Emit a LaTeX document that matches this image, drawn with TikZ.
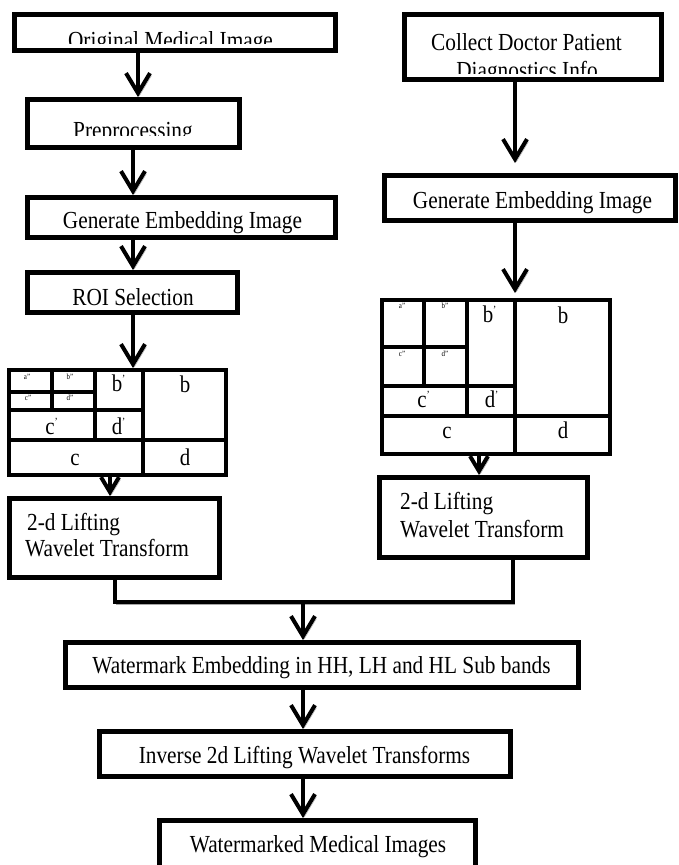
\documentclass[tikz,border=0pt]{standalone}
\usepackage{fontspec}
\setmainfont{Liberation Serif}[FakeStretch=0.87]
\usetikzlibrary{arrows.meta}
\newcommand\primed[1]{#1\rlap{\raisebox{9pt}{\fontsize{11}{11}\selectfont '}}}
\begin{document}
\begin{tikzpicture}[x=1pt,y=-1pt,
  box/.style={draw, line width=5pt, rectangle, inner sep=0pt},
  gbox/.style={draw, line width=4pt, rectangle, inner sep=0pt},
  gline/.style={line width=4pt},
  lbl/.style={font=\fontsize{24.5}{29}\selectfont, inner sep=0pt, anchor=base},
  lblw/.style={font=\fontsize{24.5}{29}\selectfont, inner sep=0pt, anchor=base west},
  glbl/.style={font=\fontsize{24}{28}\selectfont, inner sep=0pt, anchor=base},
  tinylbl/.style={font=\fontsize{8}{8}\selectfont, inner sep=0pt},
  shadow/.style={preaction={draw=black!35, transform canvas={xshift=1.5pt,yshift=-2.5pt}}},
  arr/.style={line width=4pt, -{Straight Barb[length=20pt,width=24pt]}, shadow},
  sarr/.style={line width=4pt, -{Straight Barb[length=15pt,width=18pt]}, shadow},
  conn/.style={line width=4pt, line join=miter, line cap=rect, shadow}]

\useasboundingbox (0,0) rectangle (679,865);
\clip (0,0) rectangle (679,865);

% ---- text (some clipped like the original) ----
\begin{scope}
  \clip (14,14) rectangle (336,43);
  \node[lbl] (torig) at (170.5,48) {Original Medical Image};
\end{scope}
\begin{scope}
  \clip (27,99) rectangle (240,135);
  \node[lbl] (tpre) at (133,138) {Preprocessing};
\end{scope}
\node[lbl] (tgenL) at (182.5,228.5) {Generate Embedding Image};
\node[lbl] (troi) at (133,305) {ROI Selection};
\node[lbl] (tcol1) at (526.5,50) {Collect Doctor Patient};
\begin{scope}
  \clip (404,14) rectangle (662,73);
  \node[lbl] (tcol2) at (527,78) {Diagnostics Info};
\end{scope}
\node[lbl] (tgenR) at (532.5,208.5) {Generate Embedding Image};
\node[lblw] (tliftL1) at (27,530) {2-d Lifting};
\node[lblw] (tliftL2) at (25,556) {Wavelet Transform};
\node[lblw] (tliftR1) at (400,509) {2-d Lifting};
\node[lblw] (tliftR2) at (400,537) {Wavelet Transform};
\node[lbl] (twm) at (321.5,673) {Watermark Embedding in HH, LH and HL Sub bands};
\node[lbl] (tinv) at (304.5,763) {Inverse 2d Lifting Wavelet Transforms};
\node[lbl] (tfin) at (318,852) {Watermarked Medical Images};

% ---- boxes ----
\node[box, minimum width=321pt, minimum height=36pt] (orig) at (175,32.5) {};
\node[box, minimum width=212pt, minimum height=48pt] (pre) at (133.5,123.5) {};
\node[box, minimum width=308pt, minimum height=40pt] (genL) at (181.5,217.5) {};
\node[box, minimum width=210pt, minimum height=40pt] (roi) at (132.5,292.5) {};
\node[box, minimum width=257pt, minimum height=65pt] (col) at (533,47) {};
\node[box, minimum width=291pt, minimum height=45pt] (genR) at (530,198) {};
\node[box, minimum width=210pt, minimum height=79pt] (liftL) at (114.5,538) {};
\node[box, minimum width=208pt, minimum height=80pt] (liftR) at (483.5,517.5) {};
\node[box, minimum width=513pt, minimum height=45pt] (wm) at (322,665) {};
\node[box, minimum width=411pt, minimum height=45pt] (inv) at (305,754) {};
\node[box, minimum width=316pt, minimum height=72pt] (fin) at (317.5,856.5) {};

% ---- left sub-band grid ----
\node[gbox, minimum width=217pt, minimum height=105pt] (gridL) at (117.5,422.5) {};
\draw[gline] (143,368) -- (143,477);
\draw[gline] (7,440) -- (228,440);
\draw[gline] (7,410) -- (143,410);
\draw[gline] (95,368) -- (95,440);
\draw[gline] (52,368) -- (52,410);
\draw[gline] (7,392) -- (95,392);
\node[tinylbl] (la2) at (27,377) {a''};
\node[tinylbl] (lb2) at (70,377) {b''};
\node[tinylbl] (lc2) at (28,398) {c''};
\node[tinylbl] (ld2) at (70,398) {d''};
\node[glbl] (lb1) at (117,391) {\primed{b}};
\node[glbl] (lb0) at (185,392) {b};
\node[glbl] (lc1) at (50,434) {\primed{c}};
\node[glbl] (ld1) at (117,434) {\primed{d}};
\node[glbl] (lc0) at (75,465) {c};
\node[glbl] (ld0) at (185,465) {d};

% ---- right sub-band grid ----
\node[gbox, minimum width=228pt, minimum height=154pt] (gridR) at (496,377) {};
\draw[gline] (515,298) -- (515,456);
\draw[gline] (380,416) -- (612,416);
\draw[gline] (380,386) -- (515,386);
\draw[gline] (467,298) -- (467,416);
\draw[gline] (380,347) -- (467,347);
\draw[gline] (424,298) -- (424,386);
\node[tinylbl] (ra2) at (402,306) {a''};
\node[tinylbl] (rb2) at (445,306) {b''};
\node[tinylbl] (rc2) at (402,354) {c''};
\node[tinylbl] (rd2) at (445,354) {d''};
\node[glbl] (rb1) at (488,322) {\primed{b}};
\node[glbl] (rb0) at (563,323) {b};
\node[glbl] (rc1) at (422,407) {\primed{c}};
\node[glbl] (rd1) at (490,407) {\primed{d}};
\node[glbl] (rc0) at (447,438) {c};
\node[glbl] (rd0) at (563,438) {d};

% ---- connectors ----
\draw[arr] (orig.south -| 138,0) -- (pre.north -| 138,0);
\draw[arr] (pre.south -| 133,0) -- (genL.north -| 133,0);
\draw[arr] (genL.south -| 133,0) -- (roi.north -| 133,0);
\draw[arr] (roi.south -| 133,0) -- (gridL.north -| 133,0);
\draw[sarr] (gridL.south -| 110,0) -- (liftL.north -| 110,0);
\draw[arr, shorten >=10pt] (col.south -| 515,0) -- (genR.north -| 515,0);
\draw[arr, shorten >=5pt] (genR.south -| 515,0) -- (gridR.north -| 515,0);
\draw[sarr] (gridR.south -| 479,0) -- (liftR.north -| 479,0);

\coordinate (mL) at (115,602);
\coordinate (mR) at (513,602);
\coordinate (mC) at (303,602);
\draw[conn] (liftL.south -| mL) -- (mL) -- (mR) -- (liftR.south -| mR);
\draw[arr] (mC) -- (wm.north -| mC);
\draw[arr] (wm.south -| mC) -- (inv.north -| mC);
\draw[arr] (inv.south -| mC) -- (fin.north -| mC);
\end{tikzpicture}
\end{document}
